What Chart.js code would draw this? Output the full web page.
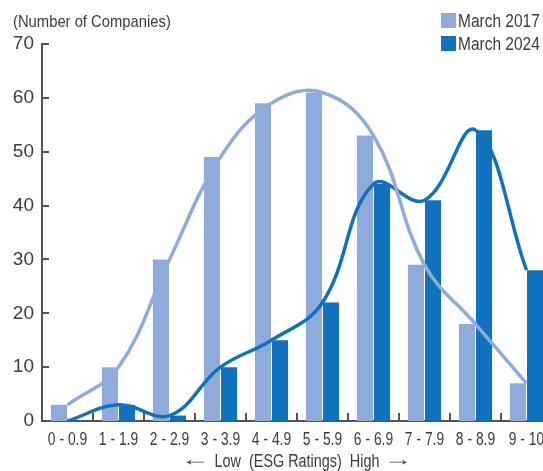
<!DOCTYPE html>
<html>
<head>
<meta charset="utf-8">
<script src="https://cdn.jsdelivr.net/npm/chart.js@4.4.1/dist/chart.umd.min.js"></script>
<style>
  body { margin: 0; overflow: hidden; background: #fff; }
  #wrap { position: absolute; left: 0; top: 0; width: 560px; height: 471px; }
  .txt { position: absolute; font-family: "Liberation Sans", sans-serif; color: #3c3c3c; white-space: nowrap; transform-origin: 0 0; }
  #ytitle { left: 13px; top: 12px; font-size: 17px; transform: scaleX(0.87); }
  .box { position: absolute; left: 441px; width: 15px; height: 15px; }
  .leg { left: 458px; font-size: 18px; transform: scaleX(0.86); }
</style>
</head>
<body>
<div id="wrap"><canvas id="myChart"></canvas></div>
<div class="txt" id="ytitle">(Number of Companies)</div>
<div class="box" style="top:13px;background:#8fabdb"></div>
<div class="txt leg" style="top:11px">March 2017</div>
<div class="box" style="top:36px;background:#1071bd"></div>
<div class="txt leg" style="top:34px">March 2024</div>
<script>
var labels = ["0 - 0.9", "1 - 1.9", "2 - 2.9", "3 - 3.9", "4 - 4.9", "5 - 5.9", "6 - 6.9", "7 - 7.9", "8 - 8.9", "9 - 10"];
var march2017 = [3, 10, 30, 49, 59, 61, 53, 29, 18, 7];
var march2024 = [0, 3, 1, 10, 15, 22, 44, 41, 54, 28];
var yTicks = [0, 10, 20, 30, 40, 50, 60, 70];
var xTitle = 'Low  (ESG Ratings)  High';

var light = '#8fabdb';
var dark = '#1071bd';
var axisColor = '#555555';
var textColor = '#3c3c3c';

// ticks pointing into the plot + condensed x labels
var axisDecor = {
  id: 'axisDecor',
  afterDraw: function (chart) {
    var c = chart.ctx, a = chart.chartArea;
    var x = chart.scales.x, y = chart.scales.y;
    c.save();
    c.strokeStyle = axisColor;
    c.lineWidth = 2;
    c.beginPath();
    yTicks.forEach(function (v) {
      if (v === 0) return;
      var py = Math.round(y.getPixelForValue(v));
      c.moveTo(a.left, py);
      c.lineTo(a.left + 7, py);
    });
    var step = x.getPixelForValue(1) - x.getPixelForValue(0);
    for (var i = 1; i < labels.length; i++) {
      var px = Math.round(x.getPixelForValue(i) - step / 2);
      c.moveTo(px, a.bottom);
      c.lineTo(px, a.bottom - 8);
    }
    c.stroke();

    c.fillStyle = textColor;
    c.font = '18px "Liberation Sans", sans-serif';
    c.textAlign = 'center';
    c.textBaseline = 'alphabetic';
    labels.forEach(function (lab, i) {
      c.save();
      c.translate(x.getPixelForValue(i), a.bottom + 24);
      c.scale(0.77, 1);
      c.fillText(lab, 0, 0);
      c.restore();
    });

    // axis title with long thin arrows either side
    var mid = (x.left + x.right) / 2;
    c.save();
    c.translate(mid, a.bottom + 46);
    c.scale(0.8, 1);
    c.fillText(xTitle, 0, 0);
    c.restore();
    [['\u2190', mid - 102], ['\u2192', mid + 101]].forEach(function (ar) {
      c.save();
      c.translate(ar[1], a.bottom + 44);
      c.scale(1.6, 1);
      c.fillText(ar[0], 0, 0);
      c.restore();
    });
    c.restore();
  }
};

var ctx = document.getElementById('myChart').getContext('2d');
var myChart = new Chart(ctx, {
  data: {
    labels: labels,
    datasets: [{
      type: 'line',
      label: 'March 2017 trend',
      data: march2017,
      borderColor: light,
      borderWidth: 3.5,
      pointRadius: 0,
      tension: 0.4,
      fill: false,
      order: 0
    }, {
      type: 'line',
      label: 'March 2024 trend',
      data: march2024,
      borderColor: dark,
      borderWidth: 3.5,
      pointRadius: 0,
      tension: 0.4,
      fill: false,
      order: 0
    }, {
      type: 'bar',
      label: 'March 2017',
      data: march2017,
      backgroundColor: light,
      barPercentage: 0.94,
      categoryPercentage: 0.67,
      order: 1
    }, {
      type: 'bar',
      label: 'March 2024',
      data: march2024,
      backgroundColor: dark,
      barPercentage: 0.94,
      categoryPercentage: 0.67,
      order: 1
    }]
  },
  options: {
    responsive: true,
    maintainAspectRatio: false,
    animation: false,
    layout: { padding: { top: 44, right: 8, left: 0, bottom: 0 } },
    plugins: {
      legend: { display: false },
      tooltip: { enabled: false }
    },
    scales: {
      x: {
        offset: true,
        grid: { display: false, drawTicks: false },
        border: { display: true, color: axisColor, width: 2 },
        ticks: { display: false },
        afterFit: function (s) { s.height = 50; }
      },
      y: {
        min: 0,
        max: 70,
        grid: { display: false, drawTicks: false },
        border: { display: true, color: axisColor, width: 2 },
        ticks: { stepSize: 10, color: textColor, font: { family: '"Liberation Sans", sans-serif', size: 19 }, padding: 8 },
        afterFit: function (s) { s.width = 42; }
      }
    }
  },
  plugins: [axisDecor]
});
</script>
</body>
</html>
